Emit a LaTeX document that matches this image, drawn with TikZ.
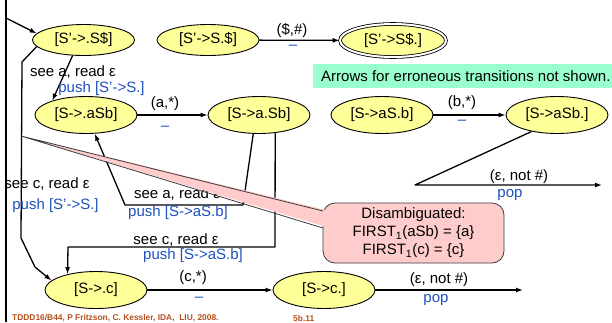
\documentclass[tikz,border=0pt]{standalone}
\usepackage{fontspec}
\setmainfont{Liberation Sans}
\usetikzlibrary{arrows.meta,shapes.geometric}
\definecolor{stateyellow}{RGB}{255,255,153}
\definecolor{pushblue}{RGB}{30,80,190}
\definecolor{notegreen}{RGB}{153,255,204}
\definecolor{calloutpink}{RGB}{255,204,204}
\definecolor{calloutedge}{RGB}{60,60,60}
\definecolor{footbrown}{RGB}{180,80,30}

\begin{document}
\begin{tikzpicture}[x=1pt,y=-1pt,
  state/.style={ellipse, draw=black, line width=0.9pt, fill=stateyellow,
    minimum width=102pt, minimum height=37pt, inner sep=0pt,
    font=\fontsize{15}{17}\selectfont},
  conn/.style={line width=1.3pt, line join=round, -{Latex[length=7pt,width=5pt]}},
  lbl/.style={font=\fontsize{15}{17}\selectfont, inner sep=0pt},
  op/.style={lbl, text=pushblue},
  foot/.style={font=\fontsize{8.4}{10}\bfseries, text=footbrown, inner sep=0pt},
]
\useasboundingbox (0,0) rectangle (612,322);

% left rail
\coordinate (railTop) at (6,0);
\coordinate (railBot) at (6,322);
\draw[line width=2pt] (railTop) -- (railBot);
\coordinate (entry) at (6,18);

% states
\node[state, minimum height=31pt] (A) at (83.5,40) {[S'->.S\$]};
\node[state, minimum height=31pt] (B) at (208,40) {[S'->S.\$]};
\node[state, minimum width=106pt, minimum height=33pt, double=white,
      double distance=2pt, line width=0.8pt] (C) at (393,40.5) {[S'->S\$.]};
\node[state] (D) at (86,115) {[S->.aSb]};
\node[state] (E) at (259,115) {[S->a.Sb]};
\node[state] (F) at (382,115) {[S->aS.b]};
\node[state] (G) at (557,115) {[S->aSb.]};
\node[state] (H) at (96,290) {[S->.c]};
\node[state] (I) at (324,290) {[S->c.]};

% bend points and free ends
\coordinate (ah1) at (22,62);
\coordinate (ah2) at (21,238);
\coordinate (ah3) at (35,267);
\coordinate (ed1) at (243,205);
\coordinate (ed2) at (125,205);
\coordinate (eh1) at (275,247);
\coordinate (eh2) at (68,247);
\coordinate (gbend) at (415,185);
\coordinate (gEnd) at (602,185);
\coordinate (iEnd) at (523,290);
\coordinate (tip) at (21,136);

% transitions
\draw[conn] (entry) -- (A.172);
\draw[conn] (A.235) -- (D.157);
\draw[conn] (A.188) -- (ah1) -- (ah2) -- (ah3) -- (H.168);
\draw[conn] (D) -- (E);
\draw[conn] (E.253) -- (ed1) -- (ed2) -- (D.295);
\draw[conn] (E.312) -- (eh1) -- (eh2) -- (H.151);
\draw[conn] (B) -- (C);
\draw[conn] (F) -- (G);
\draw[conn] (H) -- (I);
\draw[conn] (I) -- (iEnd);
\draw[conn] (G.213) -- (gbend) -- (gEnd);

% transition labels
\node[lbl] (l1) at (73,72) {see a, read ε};
\node[op]  (p1) at (101.5,89) {push [S'->S.]};
\node[lbl] (l2) at (165,104) {(a,*)};
\node[op]  (m2) at (165,128) {–};
\node[lbl] (l3) at (292,30) {(\$,\#)};
\node[op]  (m3) at (293,47) {–};
\node[lbl] (l4) at (462,103) {(b,*)};
\node[op]  (m4) at (462,122) {–};
\node[lbl] (l5) at (177,194) {see a, read ε};
\node[op]  (p5) at (178,213) {push [S->aS.b]};
\node[lbl] (l6) at (47,184) {see c, read ε};
\node[op]  (p6) at (55.5,206) {push [S'->S.]};
\node[lbl] (l7) at (176,240) {see c, read ε};
\node[op]  (p7) at (193,256) {push [S->aS.b]};
\node[lbl] (l8) at (193,278) {(c,*)};
\node[op]  (m8) at (199,299) {–};
\node[lbl] (l9) at (519,177) {(ε, not \#)};
\node[op]  (p9) at (510,195) {pop};
\node[lbl] (l10) at (439,280) {(ε, not \#)};
\node[op]  (p10) at (436,300) {pop};

% note
\node[lbl, fill=notegreen, anchor=west, inner xsep=8pt, minimum height=24pt]
  (note) at (313,76) {Arrows for erroneous transitions not shown.};

% callout with tail
\node[draw=calloutedge, line width=0.8pt, fill=calloutpink, rounded corners=12pt,
      minimum width=181pt, minimum height=60pt, align=center,
      font=\fontsize{15}{18}\selectfont, inner sep=0pt] (callout) at (413.5,233)
  {Disambiguated:\\FIRST\textsubscript{1}(aSb) = \{a\}\\FIRST\textsubscript{1}(c) = \{c\}};
\coordinate (tailTop) at (323,211);
\coordinate (tailBot) at (323,228);
\fill[calloutpink] (tip) -- (330,211) -- (330,228) -- cycle;
\draw[calloutedge, line width=0.8pt, line join=round] (tailTop) -- (tip) -- (tailBot);

% footer
\node[foot, anchor=base west] (footL) at (12,320) {TDDD16/B44, P Fritzson, C. Kessler, IDA,\ \ LIU, 2008.};
\node[foot, anchor=base west] (footR) at (293,321) {5b.11};
\end{tikzpicture}
\end{document}
